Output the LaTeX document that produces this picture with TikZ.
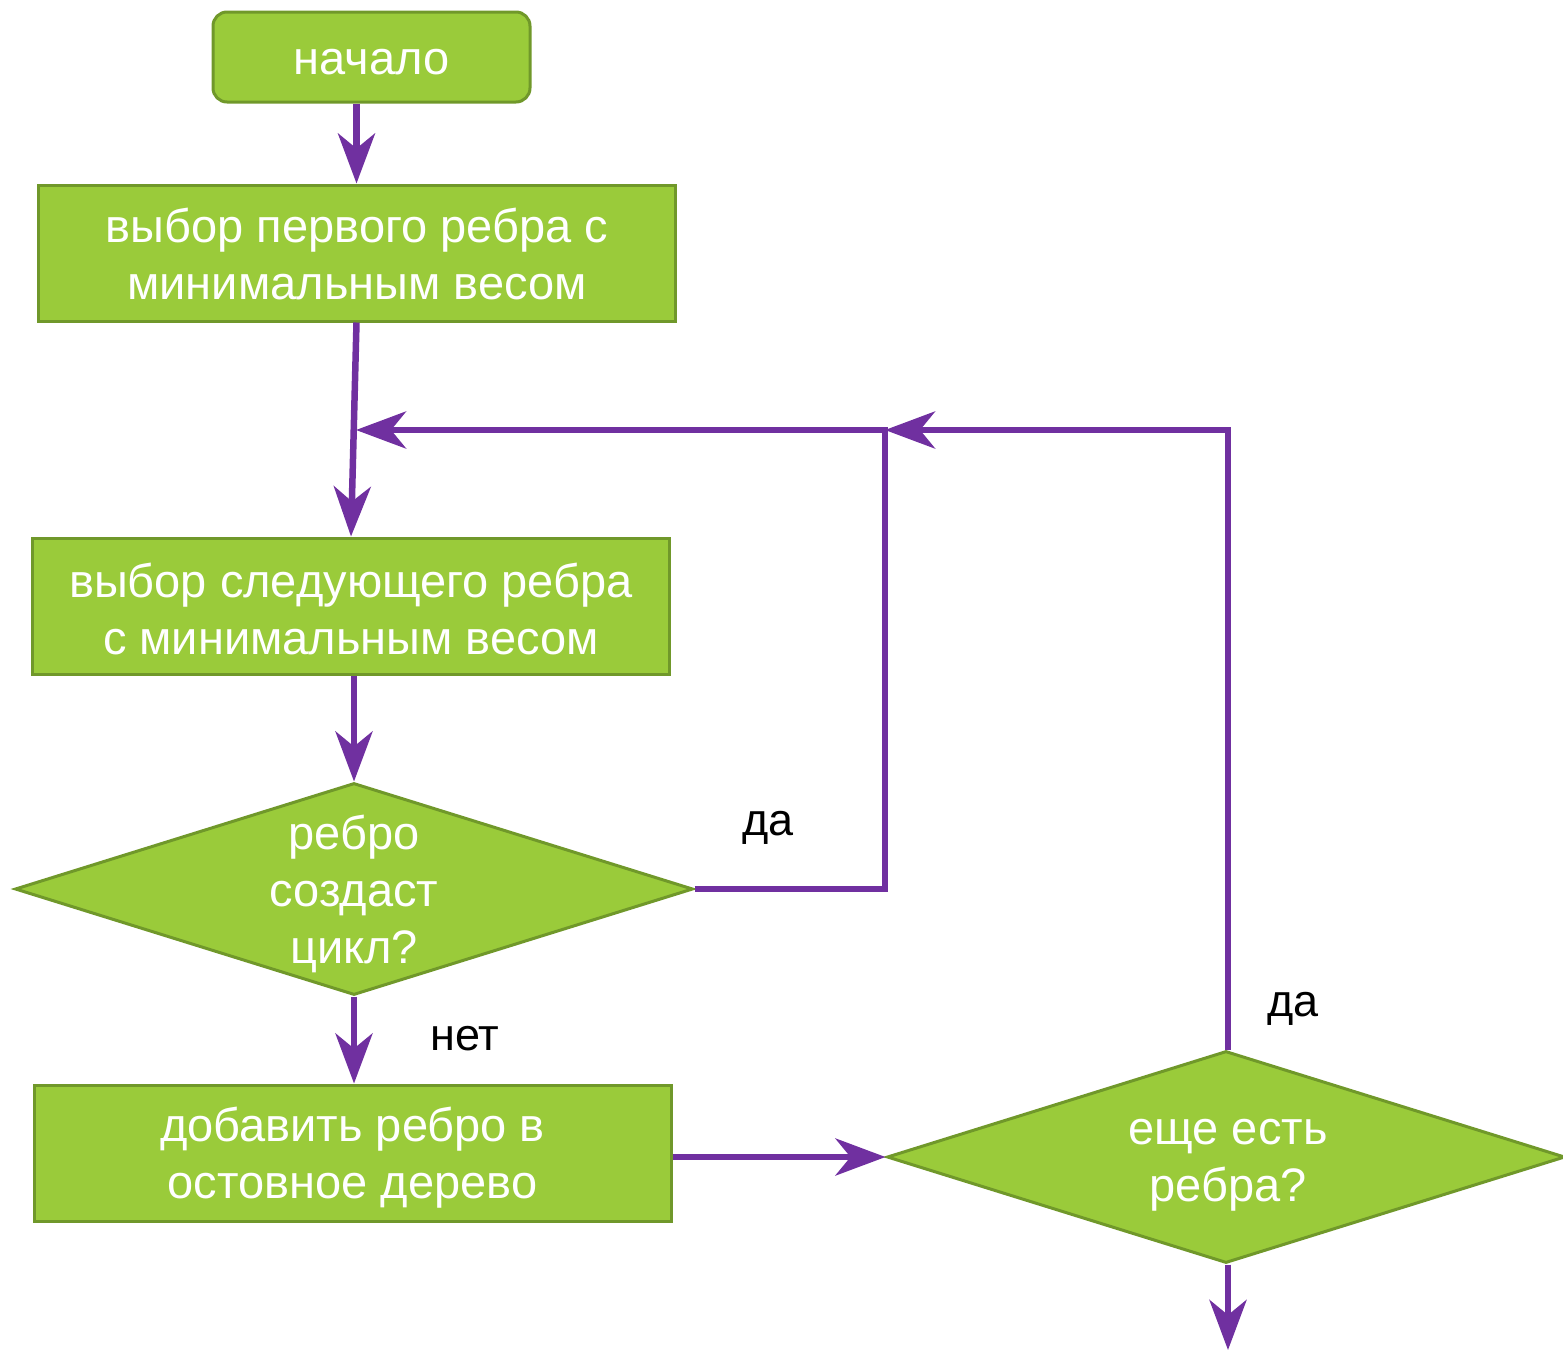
\documentclass[tikz,border=0pt]{standalone}
\usepackage{fontspec}
\setmainfont{Liberation Sans}
\usetikzlibrary{arrows.meta,shapes.geometric}
\definecolor{leaf}{RGB}{154,203,58}
\definecolor{leafedge}{RGB}{112,152,42}
\definecolor{flow}{RGB}{112,48,160}
\tikzset{
  base/.style={draw=leafedge, line width=3pt, fill=leaf, inner sep=0pt},
  stepbox/.style={base, rectangle, minimum width=637pt, minimum height=136pt},
  startbox/.style={base, rectangle, rounded corners=14pt, minimum width=317pt, minimum height=90pt},
  choice/.style={base, diamond, minimum width=678pt, minimum height=212pt},
  inside/.style={text=white, font=\fontsize{47}{57}\selectfont, align=center, inner sep=0pt},
  flowline/.style={draw=flow, line width=6.5pt, line join=miter,
    -{Stealth[length=50pt,width=37pt,inset=15pt]}},
  tag/.style={font=\fontsize{45}{54}\selectfont, text=black, inner sep=0pt},
}
\begin{document}
\begin{tikzpicture}[x=1pt,y=-1pt]
  \useasboundingbox (0,0) rectangle (1563,1350);

  % blocks
  \node[startbox] (start) at (371.5,57) {};
  \node[stepbox]  (first) at (356.5,253) {};
  \node[stepbox]  (next)  at (351,606) {};
  \node[choice]   (cycle) at (354,889) {};
  \node[stepbox]  (add)   at (352.5,1153) {};
  \node[choice]   (more)  at (1226,1157) {};

  % block texts
  \node[inside] (startT) at (371.5,62) {начало};
  \node[inside] (firstT) at (357,254) {выбор первого ребра с\\минимальным весом};
  \node[inside] (nextT)  at (351,609) {выбор следующего ребра\\с минимальным весом};
  \node[inside] (cycleT) at (354,894) {ребро\\создаст\\цикл?};
  \node[inside] (addT)   at (352.5,1158) {добавить ребро в\\остовное дерево};
  \node[inside] (moreT)  at (1228,1165) {еще есть\\ребра?};

  % junctions of the return lines
  \coordinate (merge) at (356,430);
  \coordinate (join)  at (885,430);
  \coordinate (exit)  at (1228,1350);

  % connectors
  \draw[flowline] (start.south -| first.north) -- (first.north);
  \draw[flowline] (first.south) -- (next.north);
  \draw[flowline] (next.south -| cycle.north) -- (cycle.north);
  \draw[flowline] (cycle.east) -| (join) -- (merge);
  \draw[flowline] (cycle.south) -- (add.north -| cycle.south);
  \draw[flowline] (add.east |- more.west) -- (more.west);
  \draw[flowline] (more.north -| exit) -- (join -| exit) -- (join);
  \draw[flowline] (more.south -| exit) -- (exit);

  % branch labels
  \node[tag] (yes1) at (768,828) {да};
  \node[tag] (no1)  at (465,1039) {нет};
  \node[tag] (yes2) at (1293,1009) {да};
\end{tikzpicture}
\end{document}
